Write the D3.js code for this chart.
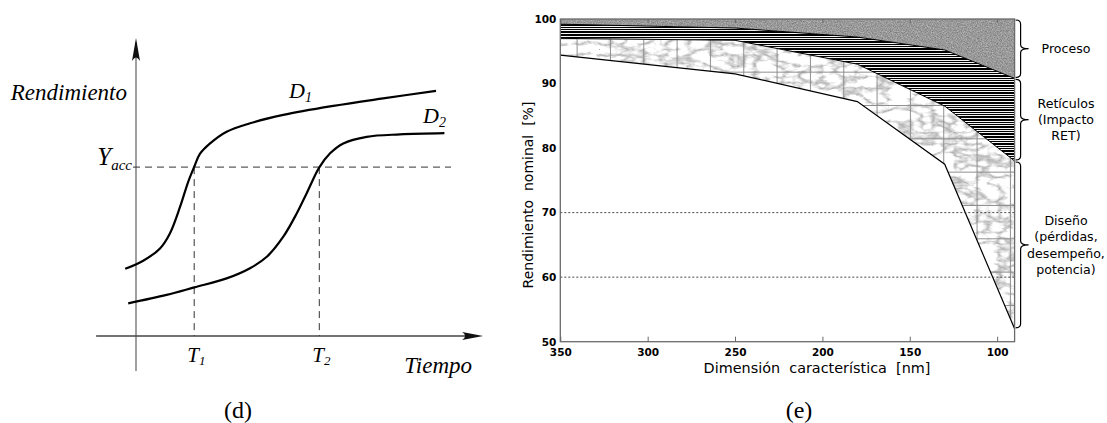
<!DOCTYPE html>
<html>
<head>
<meta charset="utf-8">
<script src="https://cdn.jsdelivr.net/npm/d3@7"></script>
<style>
  body { margin: 0; background: #fff; }
  svg { display: block; }
</style>
</head>
<body>
<svg id="chart" width="1107" height="423"></svg>
<script>
// (d) yield curves, arbitrary time / yield units
const timeD1 = [-3.6, 2.4, 8.0, 11.3, 14.7, 17.4, 19.4, 21.3, 24.7, 30.2, 38.0, 49.1, 65.8, 82.4, 100];
const yieldD1 = [22.4, 25.1, 29.2, 34.2, 43.1, 51.4, 56.4, 60.7, 64.2, 68.1, 70.9, 73.7, 76.7, 79.2, 81.7];
const timeD2 = [-2.6, 10.2, 19.4, 30.2, 38.0, 43.6, 49.1, 53.6, 56.9, 61.1, 64.7, 69.1, 76.9, 88.0, 102.8];
const yieldD2 = [10.9, 13.7, 16.2, 19.2, 22.6, 26.4, 33.1, 40.9, 47.6, 56.2, 60.9, 64.2, 66.4, 67.2, 67.6];
const yAcc = 56.3;
const tCross = [19.4, 61.1];
const tNames = ['1', '2'];

// (e) yield limits per technology node [nm]
const nodesNm = [350, 250, 180, 130, 90];
const procesoLow = [99.2, 98.6, 97.2, 95.2, 90.8];
const reticuloLow = [97.0, 96.7, 93.0, 86.5, 78.0];
const disenoLow = [94.4, 91.5, 87.2, 77.5, 52.0];
const xTicks = [350, 300, 250, 200, 150, 100];
const yTicks = [50, 60, 70, 80, 90, 100];
const gridVals = [60, 70];
const bandText = [
  ['Proceso'],
  ['Retículos', '(Impacto', 'RET)'],
  ['Diseño', '(pérdidas,', 'desempeño,', 'potencia)'],
];

const serif = '"Liberation Serif", "DejaVu Serif", serif';
const sans = '"DejaVu Sans", sans-serif';

const svg = d3.select('#chart');
const defs = svg.append('defs');

// ---------- panel (d) ----------
const x = d3.scaleLinear().domain([0, 100]).range([136, 436]);
const y = d3.scaleLinear().domain([0, 100]).range([336, 36]);
const pd = svg.append('g');

// axes with arrows
pd.append('line')
  .attr('x1', x(0)).attr('x2', x(0))
  .attr('y1', y(-11.7)).attr('y2', y(98))
  .attr('stroke', '#777').attr('stroke-width', 1.4);
pd.append('line')
  .attr('x1', x(-13.3)).attr('x2', x(113))
  .attr('y1', y(0)).attr('y2', y(0))
  .attr('stroke', '#444').attr('stroke-width', 1.3);

const tipY = [x(0), y(99.3)];
pd.append('path')
  .attr('d', `M${tipY[0]},${tipY[1]} L${tipY[0] - 4},${tipY[1] + 23} Q${tipY[0]},${tipY[1] + 16} ${tipY[0] + 4},${tipY[1] + 23} Z`)
  .attr('fill', '#111');
const tipX = [x(115.7), y(0)];
pd.append('path')
  .attr('d', `M${tipX[0]},${tipX[1]} L${tipX[0] - 21},${tipX[1] - 4} Q${tipX[0] - 15},${tipX[1]} ${tipX[0] - 21},${tipX[1] + 4} Z`)
  .attr('fill', '#111');

// dashed guides
pd.append('line')
  .attr('x1', x(-1)).attr('x2', x(105))
  .attr('y1', y(yAcc)).attr('y2', y(yAcc))
  .attr('stroke', '#333').attr('stroke-dasharray', '7,5');
pd.selectAll('.vdash')
  .data(tCross)
  .enter()
  .append('line')
  .attr('x1', (t) => x(t)).attr('x2', (t) => x(t))
  .attr('y1', y(yAcc)).attr('y2', y(0))
  .attr('stroke', '#333').attr('stroke-dasharray', '7,5');

const curve = d3.line()
  .x((p) => x(p[0]))
  .y((p) => y(p[1]))
  .curve(d3.curveCatmullRom);

[d3.zip(timeD1, yieldD1), d3.zip(timeD2, yieldD2)].forEach((pts) => {
  pd.append('path')
    .attr('d', curve(pts))
    .attr('fill', 'none')
    .attr('stroke', '#000')
    .attr('stroke-width', 2.2);
});

const it = (sel) => sel.attr('font-family', serif).attr('font-style', 'italic').attr('fill', '#000');

it(pd.append('text')).attr('x', 127).attr('y', 100).attr('text-anchor', 'end')
  .attr('font-size', 23).text('Rendimiento');
it(pd.append('text')).attr('x', 472).attr('y', 373).attr('text-anchor', 'end')
  .attr('font-size', 23).text('Tiempo');

const sub = (main, s, px, py, fs, sfs, dy, anchor) => {
  const t = it(pd.append('text')).attr('x', px).attr('y', py).attr('font-size', fs)
    .attr('text-anchor', anchor || 'start');
  t.append('tspan').text(main);
  t.append('tspan').attr('font-size', sfs).attr('dy', dy).text(s);
  return t;
};
sub('D', '1', 289, 98, 22, 14, 4);
sub('D', '2', 423, 123, 22, 14, 4);
sub('Y', 'acc', 132, 165, 25, 15, 5, 'end');
tCross.forEach((t, i) => sub('T', tNames[i], x(t) - 7, 362, 21, 13, 3));

svg.append('text')
  .attr('x', 238).attr('y', 418).attr('text-anchor', 'middle')
  .attr('font-family', serif).attr('font-size', 24).text('(d)');

// ---------- panel (e) ----------
const ex = d3.scaleLinear().domain([350, 90]).range([560.3, 1014.6]);
const ey = d3.scaleLinear().domain([50, 100]).range([341.7, 19]);

const noise = (id, type, freq, oct, k, off, seed) => {
  const f = defs.append('filter')
    .attr('id', id)
    .attr('filterUnits', 'userSpaceOnUse')
    .attr('x', 540).attr('y', 0).attr('width', 500).attr('height', 360)
    .attr('color-interpolation-filters', 'sRGB');
  f.append('feTurbulence')
    .attr('type', type).attr('baseFrequency', freq)
    .attr('numOctaves', oct).attr('seed', seed).attr('result', 'n');
  f.append('feColorMatrix')
    .attr('in', 'n').attr('type', 'matrix')
    .attr('values', `${k} 0 0 0 ${off}  ${k} 0 0 0 ${off}  ${k} 0 0 0 ${off}  0 0 0 0 1`)
    .attr('result', 'g');
  f.append('feComposite').attr('in', 'g').attr('in2', 'SourceGraphic').attr('operator', 'in');
};
noise('granite', 'fractalNoise', '0.8', 2, 0.4, 0.4, 7);
noise('marble', 'turbulence', '0.045 0.09', 3, 1.0, 0.67, 3);

const stripes = defs.append('pattern')
  .attr('id', 'stripes')
  .attr('patternUnits', 'userSpaceOnUse')
  .attr('width', 20).attr('height', 17);
stripes.append('rect').attr('width', 20).attr('height', 17).attr('fill', '#f4f4f4');
[[0, 2], [3, 1], [5, 1], [7, 2], [10, 1], [12, 1], [14, 2]].forEach(([yy, h]) => {
  stripes.append('rect').attr('y', yy).attr('width', 20).attr('height', h).attr('fill', '#000');
});

const tiles = defs.append('pattern')
  .attr('id', 'tiles')
  .attr('patternUnits', 'userSpaceOnUse')
  .attr('x', 10).attr('y', 5)
  .attr('width', 33.33).attr('height', 33.33);
tiles.append('path')
  .attr('d', 'M0,0.5 H33.33 M0.5,0 V33.33')
  .attr('stroke', '#8e8e8e').attr('stroke-width', 1).attr('fill', 'none');

const idx = d3.range(nodesNm.length);
const band = (top, bot) => d3.area()
  .x((i) => ex(nodesNm[i]))
  .y0((i) => ey(top(i)))
  .y1((i) => ey(bot(i)))(idx);

const pe = svg.append('g');
pe.append('path').attr('d', band(() => 100, (i) => procesoLow[i]))
  .attr('fill', '#888').attr('filter', 'url(#granite)');
pe.append('path').attr('d', band((i) => procesoLow[i], (i) => reticuloLow[i]))
  .attr('fill', 'url(#stripes)');
const marbleD = band((i) => reticuloLow[i], (i) => disenoLow[i]);
pe.append('path').attr('d', marbleD).attr('fill', '#eee').attr('filter', 'url(#marble)');
pe.append('path').attr('d', marbleD).attr('fill', 'url(#tiles)');

[procesoLow, reticuloLow, disenoLow].forEach((arr, k) => {
  pe.append('path')
    .attr('d', d3.line().x((i) => ex(nodesNm[i])).y((i) => ey(arr[i]))(idx))
    .attr('fill', 'none')
    .attr('stroke', '#000')
    .attr('stroke-width', k === 2 ? 1.2 : 1);
});

// dotted grid
pe.selectAll('.grid')
  .data(gridVals)
  .enter()
  .append('line')
  .attr('x1', ex(350)).attr('x2', ex(90))
  .attr('y1', (v) => ey(v)).attr('y2', (v) => ey(v))
  .attr('stroke', '#333').attr('stroke-width', 0.9).attr('stroke-dasharray', '2,2');

// frame
pe.append('rect')
  .attr('x', ex(350)).attr('y', ey(100))
  .attr('width', ex(90) - ex(350)).attr('height', ey(50) - ey(100))
  .attr('fill', 'none').attr('stroke', '#6a6a6a').attr('stroke-width', 1.3);

const xAxis = pe.append('g')
  .attr('transform', `translate(0,${ey(50)})`)
  .call(d3.axisBottom(ex).tickValues(xTicks).tickSizeInner(-5).tickSizeOuter(0).tickPadding(7));
const topAxis = pe.append('g')
  .attr('transform', `translate(0,${ey(100)})`)
  .call(d3.axisTop(ex).tickValues(xTicks).tickSizeInner(-4).tickSizeOuter(0));
topAxis.selectAll('text').remove();
const yAxis = pe.append('g')
  .attr('transform', `translate(${ex(350)},0)`)
  .call(d3.axisLeft(ey).tickValues(yTicks).tickSize(0).tickPadding(4));
[xAxis, topAxis, yAxis].forEach((a) => {
  a.select('.domain').remove();
  a.selectAll('line').attr('stroke', '#6a6a6a');
  a.selectAll('text')
    .attr('font-family', sans)
    .attr('font-weight', 'bold')
    .attr('font-size', 10.5)
    .attr('fill', '#000');
});

pe.append('text')
  .attr('x', 817).attr('y', 373).attr('text-anchor', 'middle')
  .attr('font-family', sans).attr('font-size', 14.4)
  .style('white-space', 'pre')
  .text('Dimensión  característica  [nm]');
pe.append('text')
  .attr('transform', 'translate(532.5,195) rotate(-90)')
  .attr('text-anchor', 'middle')
  .attr('font-family', sans).attr('font-size', 14)
  .style('white-space', 'pre')
  .text('Rendimiento  nominal  [%]');

// braces + band labels
const last = (a) => a[a.length - 1];
const bandTops = [100, last(procesoLow), last(reticuloLow)];
const bandBots = [last(procesoLow), last(reticuloLow), last(disenoLow)];
const bx = ex(90) + 1;
const brace = (ya, yb) => {
  const m = (ya + yb) / 2, r = 4, x1 = bx + 5, x2 = bx + 13;
  return `M${bx},${ya} Q${x1},${ya} ${x1},${ya + r} L${x1},${m - r} Q${x1},${m} ${x2},${m}` +
    ` Q${x1},${m} ${x1},${m + r} L${x1},${yb - r} Q${x1},${yb} ${bx},${yb}`;
};
bandText.forEach((lines, k) => {
  const ya = ey(bandTops[k]) + 1, yb = ey(bandBots[k]) - 1;
  pe.append('path').attr('d', brace(ya, yb))
    .attr('fill', 'none').attr('stroke', '#000').attr('stroke-width', 1.2);
  const m = (ya + yb) / 2;
  const t = pe.append('text')
    .attr('text-anchor', 'middle')
    .attr('font-family', sans).attr('font-size', 12.6).attr('fill', '#000');
  lines.forEach((s, i) => {
    t.append('tspan')
      .attr('x', 1066)
      .attr('y', m + (i - (lines.length - 1) / 2) * 16.3 + 4.5)
      .text(s);
  });
});

svg.append('text')
  .attr('x', 799).attr('y', 418).attr('text-anchor', 'middle')
  .attr('font-family', serif).attr('font-size', 24).text('(e)');
</script>
</body>
</html>
